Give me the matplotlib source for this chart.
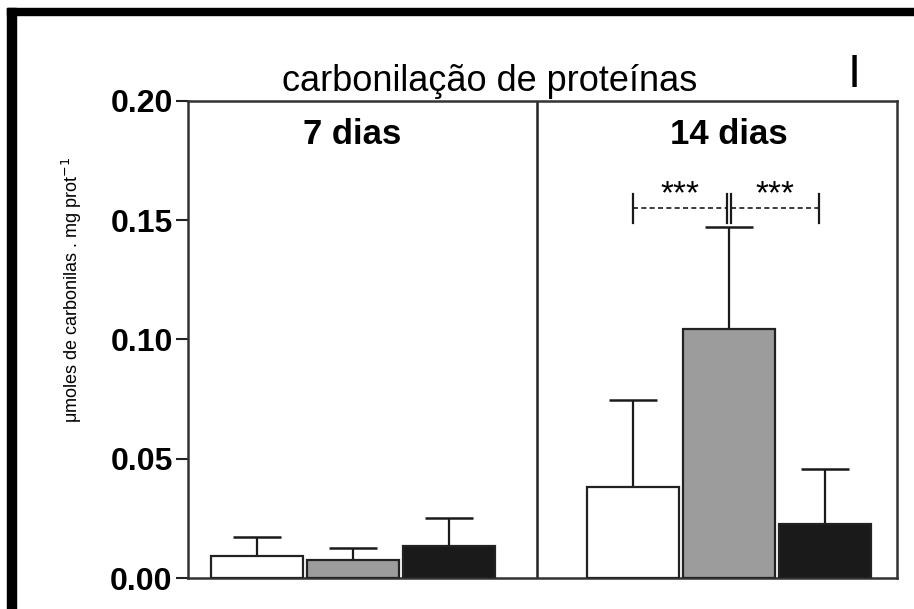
import matplotlib.pyplot as plt
from matplotlib.patches import Rectangle
import numpy as np

# Dados: carbonilação de proteínas (média e erro superior)
grupos = ['7 dias', '14 dias']
media_7 = [0.0092, 0.0075, 0.0134]
erro_7 = [0.0080, 0.0051, 0.0117]
media_14 = [0.0381, 0.1043, 0.0226]
erro_14 = [0.0365, 0.0427, 0.0231]
cores = ['white', '#9b9c9b', '#1a1a1a']
yticks = [0.00, 0.05, 0.10, 0.15, 0.20]

plt.rcParams['font.family'] = ['Liberation Sans', 'DejaVu Sans']

fig = plt.figure(figsize=(9.14, 6.09), dpi=100)
ax = fig.add_axes([0.2057, 0.0509, 0.7757, 0.7833])

largura = 0.958
x7 = np.array([0.714, 1.714, 2.714])
x14 = np.array([4.635, 5.635, 6.635])
divisor = 3.635

for xs, med, err in [(x7, media_7, erro_7), (x14, media_14, erro_14)]:
    ax.bar(xs, med, width=largura, color=cores, edgecolor='#222222',
           linewidth=1.6, zorder=3)
    ax.errorbar(xs, med, yerr=[np.zeros(3), err], fmt='none', ecolor='#1a1a1a',
                elinewidth=1.6, capsize=17, capthick=1.8, zorder=2)

ax.axvline(divisor, color='#222222', linewidth=1.8)

ax.set_xlim(0, 7.385)
ax.set_ylim(0, 0.20)
ax.set_yticks(yticks)
ax.set_yticklabels([f'{v:.2f}' for v in yticks], fontsize=23, fontweight='bold')
ax.set_xticks([])
ax.tick_params(axis='y', direction='out', length=9, width=1.5, pad=2,
               color='#222222')
for s in ax.spines.values():
    s.set_linewidth(1.8)
    s.set_color('#333333')

fig.text(72 / 914, 1 - 290 / 609, 'μmoles de carbonilas . mg prot$^{-1}$',
         rotation=90, ha='center', va='center', fontsize=13)

# Rótulos dos períodos
ax.text(x7.mean(), 0.186, grupos[0], ha='center', va='center',
        fontsize=25, fontweight='bold')
ax.text(x14.mean(), 0.186, grupos[1], ha='center', va='center',
        fontsize=25, fontweight='bold')

# Colchetes de significância
yb = 0.155
h = 0.006
for xa, xb in [(x14[0], x14[1] - 0.025), (x14[1] + 0.025, x14[2] - 0.06)]:
    ax.plot([xa, xb], [yb, yb], color='#1a1a1a', linestyle=(0, (3, 2)),
            linewidth=1.2)
    ax.plot([xa, xa], [yb - h, yb + h], color='#1a1a1a', linewidth=1.6)
    ax.plot([xb, xb], [yb - h, yb + h], color='#1a1a1a', linewidth=1.6)
    ax.text((xa + xb) / 2, yb - 0.001, '***', ha='center', va='bottom',
            fontsize=24)

fig.text(0.536, 0.866, 'carbonilação de proteínas', ha='center', va='center',
         fontsize=26)
fig.text(0.935, 0.877, 'I', ha='center', va='center', fontsize=34)

# Moldura preta (esquerda e topo)
fig.add_artist(Rectangle((7 / 914, 0), 9 / 914, 1 - 8 / 609,
                         transform=fig.transFigure, color='black'))
fig.add_artist(Rectangle((7 / 914, 1 - 15 / 609), 1 - 7 / 914, 7 / 609,
                         transform=fig.transFigure, color='black'))

fig.savefig('out.png', dpi=100)
